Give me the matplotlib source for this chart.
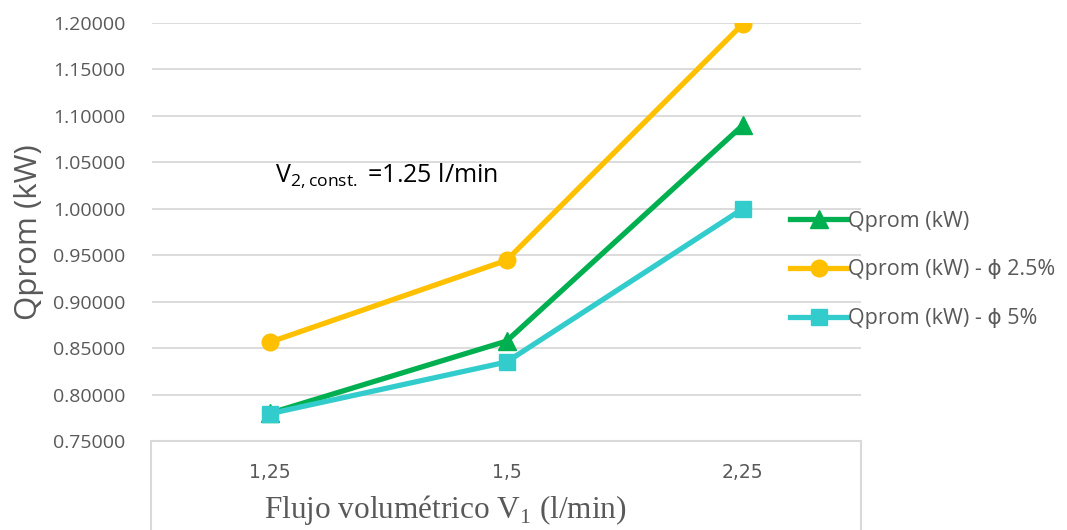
import matplotlib
matplotlib.use('Agg')
import matplotlib.pyplot as plt
from matplotlib.patches import Rectangle

# caudal V1 (l/min) y potencia promedio (kW)
categories = ['1,25', '1,5', '2,25']
q_base = [0.780, 0.8575, 1.090]
q_phi25 = [0.8565, 0.9445, 1.199]
q_phi5 = [0.7795, 0.835, 1.000]
y_ticks = [0.75, 0.80, 0.85, 0.90, 0.95, 1.00, 1.05, 1.10, 1.15, 1.20]

GRID = '#D9D9D9'
TXT = '#595959'
SANS = ['Open Sans', 'DejaVu Sans']

fig = plt.figure(figsize=(10.67, 5.30), dpi=100)
ax = fig.add_axes([152 / 1067, 1 - 441 / 530, 709 / 1067, 418 / 530])

x = range(len(categories))
ax.plot(x, q_base, color='#00B050', lw=3.8, marker='^', ms=13, label='Qprom (kW)')
ax.plot(x, q_phi25, color='#FFC000', lw=3.8, marker='o', ms=12, label='Qprom (kW) - ϕ 2.5%')
ax.plot(x, q_phi5, color='#33CCCC', lw=3.8, marker='s', ms=11, label='Qprom (kW) - ϕ 5%')

ax.set_xlim(-0.5, 2.5)
ax.set_ylim(0.75, 1.2)
ax.set_yticks(y_ticks)
ax.set_yticklabels(['%.5f' % v for v in y_ticks], fontsize=14, color=TXT, family=SANS)
ax.set_xticks(list(x))
ax.set_xticklabels(categories, fontsize=13.5, color=TXT, family=['Liberation Sans Narrow', 'DejaVu Sans'])
ax.tick_params(length=0)
ax.tick_params(axis='y', pad=19)
ax.tick_params(axis='x', pad=16)
ax.grid(axis='y', color=GRID, lw=1.3)
ax.set_axisbelow(True)
for s in ax.spines.values():
    s.set_visible(False)

ax.set_ylabel('Qprom (kW)', fontsize=22.5, color=TXT, family=SANS)
ax.yaxis.set_label_coords((44 - 152) / 709, 0.5)
ax.set_xlabel(r'Flujo volumétrico V$_{\mathregular{1}}$ (l/min)', fontsize=22.5, color=TXT,
              family='Liberation Serif')
ax.xaxis.set_label_coords((445 - 152) / 709, -(510 - 441) / 418)
ax.xaxis.label.set_va('center')

# caja bajo el eje x
fig.patches.append(Rectangle((151 / 1067, -0.1), 710 / 1067, 0.1 + 89 / 530, transform=fig.transFigure,
                             fill=False, edgecolor=GRID, lw=1.5, zorder=0))

fig.text(275 / 1067, 1 - 176 / 530, r'V$_{\mathregular{2, const.}}$ =1.25 l/min', fontsize=18,
         color='black', family=SANS, va='center')

leg = ax.legend(loc='center left', bbox_to_anchor=(771 / 1067, 1 - 270 / 530), bbox_transform=fig.transFigure,
                frameon=False, prop={'family': SANS, 'size': 15.5}, handlelength=2.65, handletextpad=0.05,
                labelspacing=1.3, labelcolor=TXT)

fig.savefig('out.png', dpi=100)
